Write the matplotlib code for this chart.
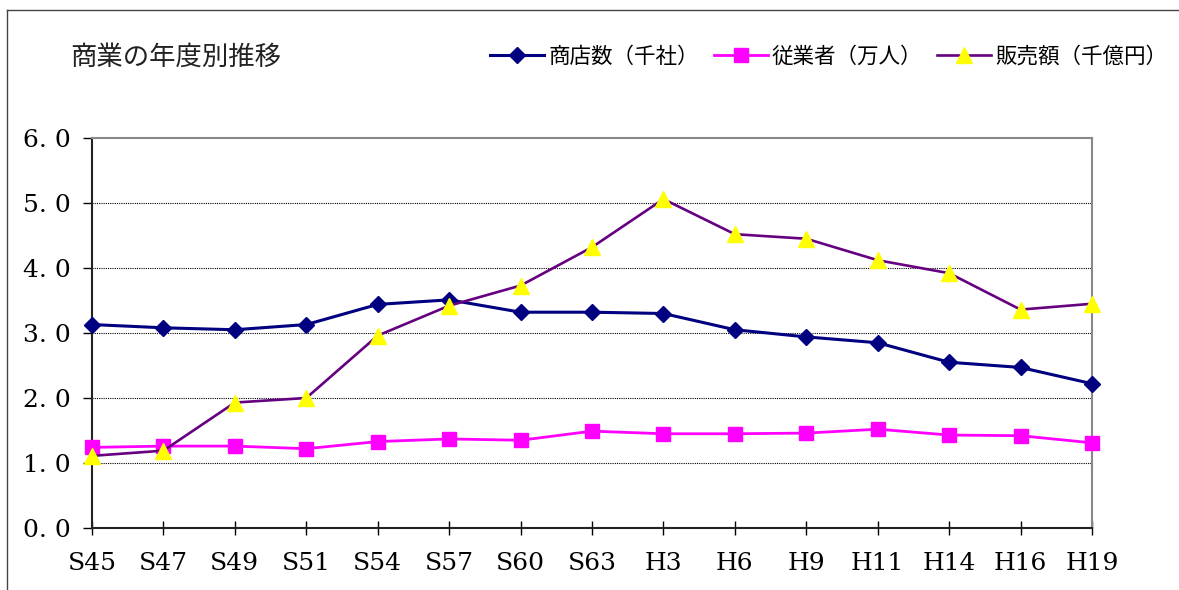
import numpy as np
import matplotlib.pyplot as plt
from matplotlib.lines import Line2D

years = ['S45', 'S47', 'S49', 'S51', 'S54', 'S57', 'S60', 'S63',
         'H3', 'H6', 'H9', 'H11', 'H14', 'H16', 'H19']
shops = [3.13, 3.08, 3.05, 3.13, 3.44, 3.51, 3.32, 3.32,
         3.30, 3.05, 2.94, 2.85, 2.55, 2.47, 2.22]
workers = [1.24, 1.26, 1.26, 1.22, 1.33, 1.37, 1.35, 1.49,
           1.45, 1.45, 1.46, 1.52, 1.43, 1.42, 1.31]
sales = [1.11, 1.19, 1.93, 2.00, 2.96, 3.42, 3.73, 4.32,
         5.06, 4.52, 4.45, 4.12, 3.92, 3.36, 3.45]
yticks = [0, 1, 2, 3, 4, 5, 6]

jp = ['Noto Sans CJK JP', 'DejaVu Sans']
serif = ['DejaVu Serif']

fig = plt.figure(figsize=(11.79, 5.90), dpi=100)
ax = fig.add_axes([92 / 1179, 1 - 528 / 590, 1000 / 1179, 390 / 590])

x = np.arange(len(years))
ax.plot(x, shops, color='#000080', lw=2.2, marker='D', ms=8,
        mfc='#000080', mec='#000080', clip_on=False, zorder=4,
        label='商店数（千社）')
ax.plot(x, workers, color='#FF00FF', lw=2.0, marker='s', ms=10.5,
        mfc='#FF00FF', mec='#FF00FF', clip_on=False, zorder=3,
        label='従業者（万人）')
ax.plot(x, sales, color='#660080', lw=1.9, marker='^', ms=11,
        mfc='#FFFF00', mec='#FFFF00', clip_on=False, zorder=5,
        label='販売額（千億円）')

ax.set_xlim(0, len(years) - 1)
ax.set_ylim(0, 6)
ax.set_xticks(x)
ax.set_xticklabels(years, fontfamily=serif, fontsize=18)
ax.set_yticks(yticks)
ax.set_yticklabels(['%d. 0' % v for v in yticks], fontfamily=serif, fontsize=18)
ax.tick_params(axis='x', direction='inout', length=10, width=1, pad=12)
ax.tick_params(axis='y', direction='out', length=6.5, width=1, pad=9)

for v in yticks[1:-1]:
    ax.axhline(v, color='black', lw=0.8, ls=(0, (1, 1)), zorder=1)

ax.spines['left'].set_color('#222222')
ax.spines['bottom'].set_color('#222222')
ax.spines['top'].set_color('#888888')
ax.spines['right'].set_color('#888888')
for s in ax.spines.values():
    s.set_linewidth(1.5)

fig.text(70 / 1179, 1 - 57 / 590, '商業の年度別推移', family=jp, fontsize=19,
         va='center', ha='left', color='#222222')

leg = fig.legend(loc='center left', bbox_to_anchor=(490 / 1179, 1 - 57 / 590),
                 ncol=3, frameon=False, prop={'family': 'Noto Sans CJK JP', 'size': 15.5},
                 handlelength=2.5, handletextpad=0.2, columnspacing=0.7,
                 borderaxespad=0, borderpad=0)

# outer frame
fig.add_artist(Line2D([7 / 1179, 7 / 1179], [0, 1 - 10 / 590], color='#444444', lw=1))
fig.add_artist(Line2D([7 / 1179, 1], [1 - 10 / 590, 1 - 10 / 590], color='#444444', lw=1))

fig.savefig('out.png', dpi=100)
